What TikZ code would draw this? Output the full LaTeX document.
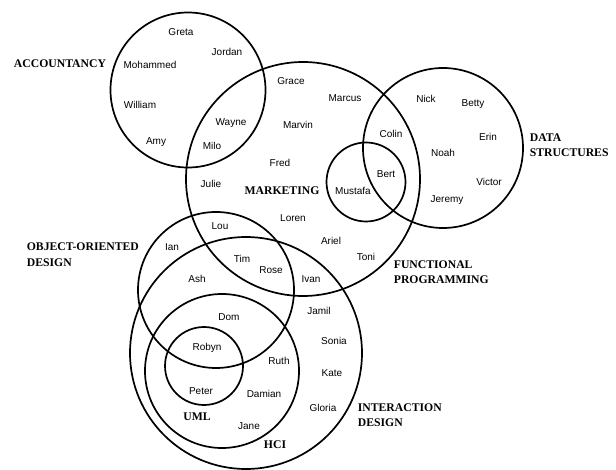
\documentclass[tikz,border=0pt]{standalone}
\usepackage{fontspec}
\setmainfont{Liberation Sans}
\newfontfamily\labelfont{Liberation Serif}
\usetikzlibrary{shapes}

\begin{document}
\begin{tikzpicture}[x=1pt,y=-1pt,line width=1.7pt]
  \tikzstyle{set}=[draw,circle,inner sep=0pt]
  \tikzstyle{person}=[inner sep=0pt,font=\fontsize{10}{12}\selectfont]
  \tikzstyle{subject}=[inner sep=0pt,align=left,
                       font=\labelfont\bfseries\fontsize{11.7}{15.5}\selectfont]

	\useasboundingbox (0,0) rectangle (616,470);

	% the sets
	\node[set, minimum size=155pt]	(acc)	at (188,90)	{};
	\node[set, minimum size=234pt]	(mkt)	at (303,179)	{};
	\node[set, minimum size=160pt]	(ds)	at (443,148)	{};
	\node[set, minimum size=79pt]	(fp)	at (366,182)	{};
	\node[set, minimum size=156pt]	(ood)	at (216,290)	{};
	\node[set, minimum size=232pt]	(id)	at (246,353)	{};
	\node[set, minimum size=154pt]	(hci)	at (222,371)	{};
	\node[set, minimum size=78pt]	(uml)	at (204,366)	{};

	% set names
	\node[subject]	(accname)		at (60,64)	{ACCOUNTANCY};
	\node[subject]	(mktname)		at (282,191)	{MARKETING};
	\node[subject, anchor=west]	(dsname)	at (529,145)	{DATA\\STRUCTURES};
	\node[subject, anchor=west]	(fpname)	at (393,272)	{FUNCTIONAL\\PROGRAMMING};
	\node[subject, anchor=west]	(oodname)	at (26,254.5)	{OBJECT-ORIENTED\\DESIGN};
	\node[subject, anchor=west]	(idname)	at (357,415)	{INTERACTION\\DESIGN};
	\node[subject]	(umlname)		at (197,417)	{UML};
	\node[subject]	(hciname)		at (275,445)	{HCI};

	% students
	\node[person]	(greta)		at (181,32)	{Greta};
	\node[person]	(jordan)	at (227,52)	{Jordan};
	\node[person]	(mohammed)	at (150,65)	{Mohammed};
	\node[person]	(william)	at (140,105)	{William};
	\node[person]	(amy)		at (156,142)	{Amy};
	\node[person]	(wayne)		at (231,123)	{Wayne};
	\node[person]	(milo)		at (212,146)	{Milo};
	\node[person]	(grace)		at (291,81)	{Grace};
	\node[person]	(marcus)	at (345,98)	{Marcus};
	\node[person]	(marvin)	at (298,125)	{Marvin};
	\node[person]	(fred)		at (280,163)	{Fred};
	\node[person]	(julie)		at (211,184)	{Julie};
	\node[person]	(loren)		at (293,218)	{Loren};
	\node[person]	(lou)		at (220,226)	{Lou};
	\node[person]	(nick)		at (426,99)	{Nick};
	\node[person]	(betty)		at (473,104)	{Betty};
	\node[person]	(colin)		at (391,134)	{Colin};
	\node[person]	(erin)		at (488,137)	{Erin};
	\node[person]	(noah)		at (443,153)	{Noah};
	\node[person]	(bert)		at (386,174)	{Bert};
	\node[person]	(victor)	at (489,182)	{Victor};
	\node[person]	(mustafa)	at (353,191)	{Mustafa};
	\node[person]	(jeremy)	at (447,200)	{Jeremy};
	\node[person]	(ariel)		at (331,241)	{Ariel};
	\node[person]	(toni)		at (366,257)	{Toni};
	\node[person]	(ivan)		at (311,279)	{Ivan};
	\node[person]	(ian)		at (172,247)	{Ian};
	\node[person]	(tim)		at (242,259)	{Tim};
	\node[person]	(rose)		at (271,270)	{Rose};
	\node[person]	(ash)		at (197,279)	{Ash};
	\node[person]	(dom)		at (229,317)	{Dom};
	\node[person]	(robyn)		at (207,348)	{Robyn};
	\node[person]	(ruth)		at (279,361)	{Ruth};
	\node[person]	(peter)		at (201,391)	{Peter};
	\node[person]	(damian)	at (264,394)	{Damian};
	\node[person]	(jane)		at (249,426)	{Jane};
	\node[person]	(jamil)		at (319,311)	{Jamil};
	\node[person]	(sonia)		at (334,341)	{Sonia};
	\node[person]	(kate)		at (332,373)	{Kate};
	\node[person]	(gloria)	at (323,408)	{Gloria};

\end{tikzpicture}
\end{document}
